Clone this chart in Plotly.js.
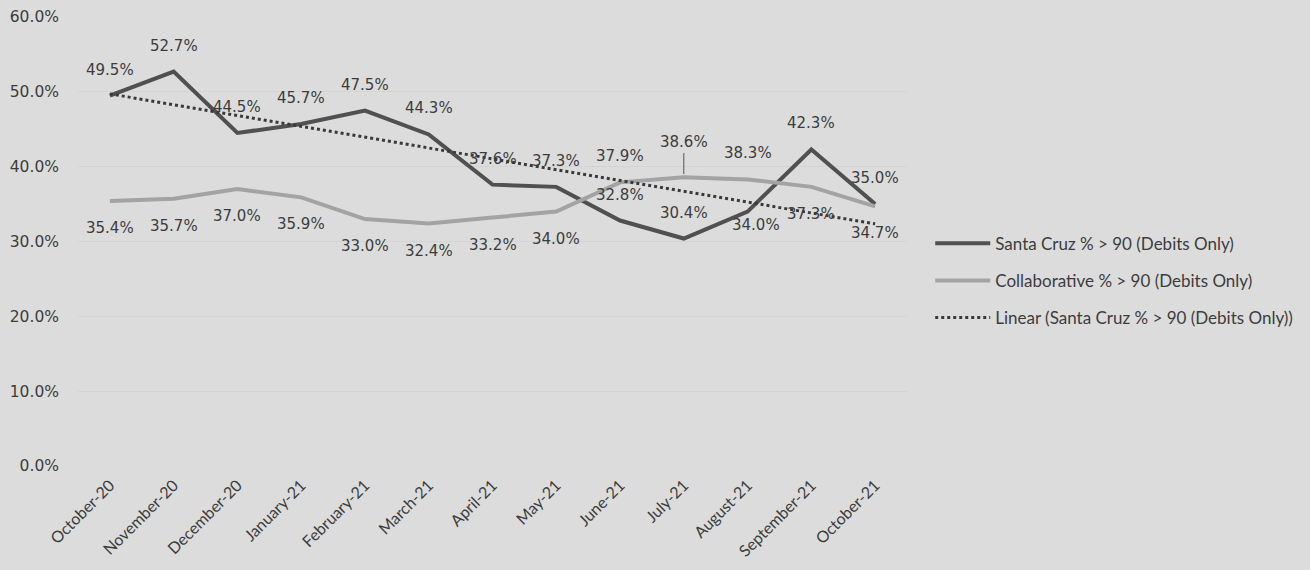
<!DOCTYPE html>
<html>
<head>
<meta charset="utf-8">
<script src="https://cdn.plot.ly/plotly-3.0.1.min.js"></script>
<style>
html,body{margin:0;padding:0;background:#dcdcdc;}
#chart{width:1310px;height:570px;}
</style>
</head>
<body>
<div id="chart"></div>
<script>
var months = ["October-20","November-20","December-20","January-21","February-21","March-21","April-21","May-21","June-21","July-21","August-21","September-21","October-21"];
var santaCruz = [49.5,52.7,44.5,45.7,47.5,44.3,37.6,37.3,32.8,30.4,34.0,42.3,35.0];
var collaborative = [35.4,35.7,37.0,35.9,33.0,32.4,33.2,34.0,37.9,38.6,38.3,37.3,34.7];
var seriesNames = ["Santa Cruz % > 90 (Debits Only)","Collaborative % > 90 (Debits Only)","Linear (Santa Cruz % > 90 (Debits Only))"];

// label placement: "a" = above point, "b" = below point, "br" = just below-right
var scLabelSide = ["a","a","a","a","a","a","a","a","a","a","br","a","a"];
var coLabelSide = ["b","b","b","b","b","b","b","b","a","a","a","b","b"];

// least-squares linear trendline of Santa Cruz series
var n = santaCruz.length, mx = (n-1)/2, my = santaCruz.reduce(function(a,b){return a+b;},0)/n;
var sxy = 0, sxx = 0;
santaCruz.forEach(function(v,i){ sxy += (i-mx)*(v-my); sxx += (i-mx)*(i-mx); });
var slope = sxy/sxx, icpt = my - slope*mx;
var trend = santaCruz.map(function(v,i){ return icpt + slope*i; });

var txtColor = "#3c3c3c";
var traces = [
  {x: months, y: santaCruz, type: "scatter", mode: "lines", name: seriesNames[0],
   line: {color: "#505050", width: 4}, legendgroup: "a"},
  {x: months, y: collaborative, type: "scatter", mode: "lines", name: seriesNames[1],
   line: {color: "#a3a3a3", width: 4}, legendgroup: "b"},
  {x: months, y: trend, type: "scatter", mode: "lines", name: seriesNames[2],
   line: {color: "#3a3a3a", width: 3, dash: "dot"}, legendgroup: "c"}
];

var annotations = [];
function addLabels(vals, sides, leaderIdx){
  vals.forEach(function(v,i){
    var a = {x: months[i], y: v, text: v.toFixed(1) + "%", showarrow: false,
      font: {family: "DejaVu Sans", size: 15, color: txtColor}};
    if (sides[i] === "a") a.yshift = 26;
    else if (sides[i] === "b") a.yshift = -27;
    else { a.yshift = -13; a.xshift = 8; }
    if (i === leaderIdx) {
      a.showarrow = true; a.arrowhead = 0; a.arrowwidth = 1; a.arrowcolor = "#555";
      a.ax = 0; a.ay = -24; a.yshift = 0; a.standoff = 3; a.yanchor = "bottom";
    }
    annotations.push(a);
  });
}
addLabels(santaCruz, scLabelSide, -1);
addLabels(collaborative, coLabelSide, 9);

var layout = {
  width: 1310, height: 570,
  paper_bgcolor: "#dcdcdc", plot_bgcolor: "#dcdcdc",
  margin: {l: 78, r: 401, t: 17, b: 104},
  showlegend: true,
  legend: {x: 1.028, y: 0.535, xanchor: "left", yanchor: "top",
    font: {family: "Lato", size: 17, color: txtColor},
    bgcolor: "rgba(0,0,0,0)", itemwidth: 55, tracegroupgap: 12},
  xaxis: {type: "category", range: [-0.5, 12.5], showgrid: false, zeroline: false,
    showline: false, ticks: "", tickangle: -45, ticklabelstandoff: 6,
    tickfont: {family: "Lato", size: 16, color: txtColor}},
  yaxis: {range: [0, 60], dtick: 10, tickformat: ".1f", ticksuffix: "%",
    showgrid: true, gridcolor: "#d4d4d4", gridwidth: 1, zeroline: false, showline: false,
    ticklabelstandoff: 18,
    tickfont: {family: "DejaVu Sans", size: 15.5, color: txtColor}},
  annotations: annotations
};

Plotly.newPlot("chart", traces, layout, {displayModeBar: false, staticPlot: true});
</script>
</body>
</html>
